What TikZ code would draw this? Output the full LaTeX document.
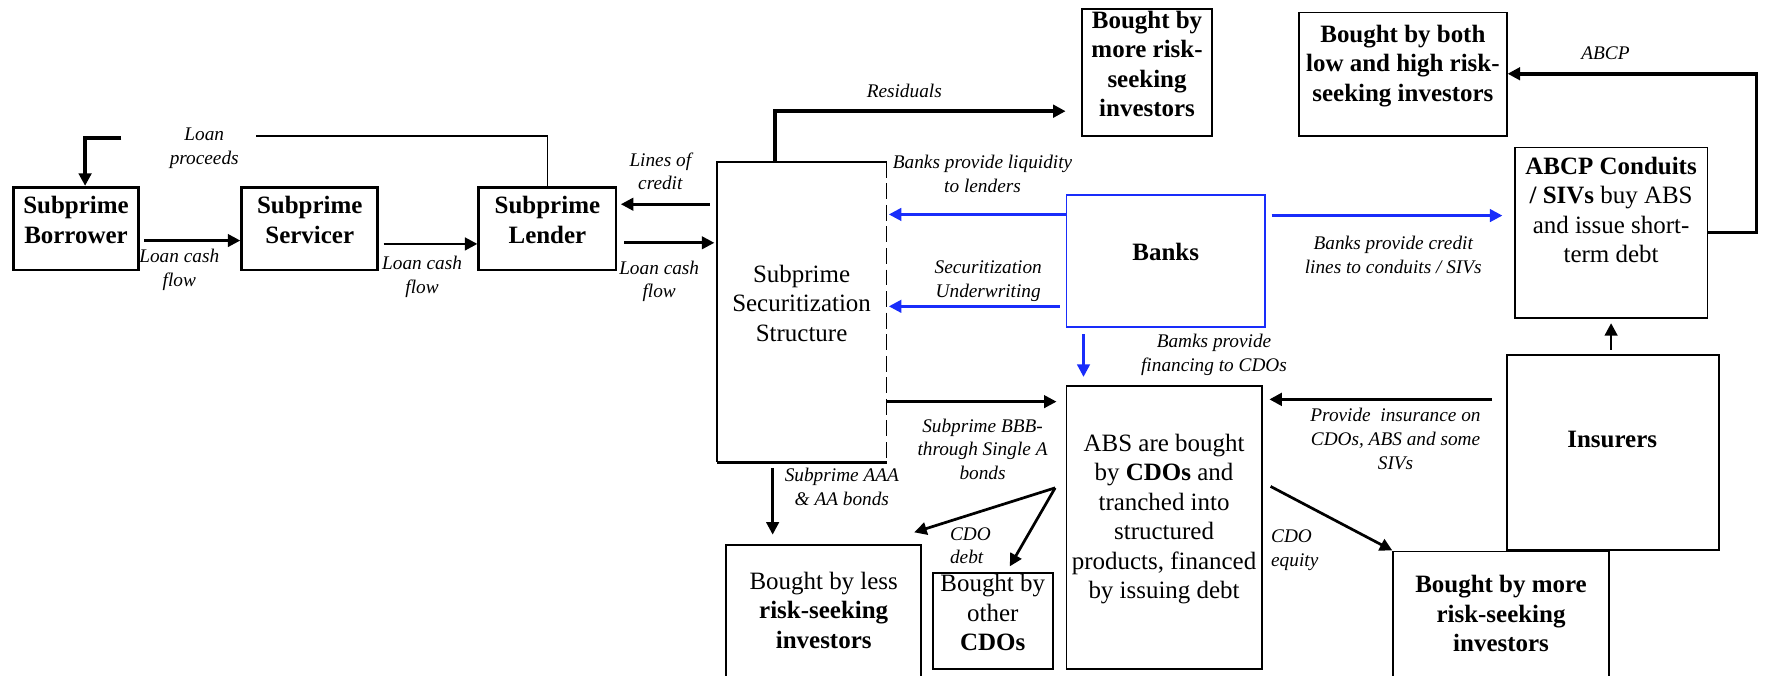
\documentclass[tikz,border=0pt]{standalone}
\usepackage{fontspec}
\setmainfont{Liberation Serif}
\usetikzlibrary{arrows.meta,fit,calc}
\definecolor{refblue}{RGB}{25,45,250}
\tikzset{
  box/.style={draw, line width=0.8pt, inner sep=0pt, align=center,
    font=\fontsize{11}{13}\selectfont},
  bbox/.style={box, font=\fontsize{11}{13}\selectfont\bfseries},
  lbl/.style={align=center, inner sep=0pt,
    font=\fontsize{8.5}{10.5}\selectfont\itshape},
  arr/.style={line width=1.2pt, -{Triangle[length=5.5pt,width=5.5pt]}},
  tarr/.style={arr, line width=1.6pt},
  barr/.style={arr, draw=refblue},
  thinline/.style={line width=0.6pt}
}
\begin{document}
\begin{tikzpicture}[x=0.5pt,y=-0.5pt]
\useasboundingbox (0,0) rectangle (1568,595);
% boxes
\node[bbox, line width=1.2pt, fit={(12,165) (122,238)}] (bor) {Subprime\\Borrower};
\node[bbox, line width=1.2pt, fit={(213,165) (333,238)}] (ser) {Subprime\\Servicer};
\node[bbox, line width=1.2pt, fit={(422,165) (543,238)}] (len) {Subprime\\Lender};
\node[inner sep=0pt, align=center, font=\fontsize{11}{13}\selectfont,
  fit={(632,143) (781,407)}] (sec) {Subprime\\Securitization\\Structure};
\draw[line width=0.8pt] (sec.north east) -- (sec.north west) -- (sec.south west);
\draw[line width=1.3pt] (sec.south west) -- (sec.south east);
\draw[line width=0.8pt, dash pattern=on 7pt off 2.5pt] (sec.north east) -- (sec.south east);
\node[bbox, fit={(954,8) (1068,120)}] (topmore) {Bought by\\more risk-\\seeking\\investors};
\node[bbox, fit={(1145,11) (1328,120)}] (both) {Bought by both\\low and high risk-\\seeking investors};
\node[box, fit={(1335,130) (1505,280)}] (abcp) {};
\node[align=center, inner sep=0pt, font=\fontsize{11}{13}\selectfont] (abcptext) at (1420,185)
  {\textbf{ABCP Conduits}\\\textbf{/ SIVs} buy ABS\\and issue short-\\term debt};
\node[bbox, draw=refblue, fit={(940,172) (1115,288)}] (banks) {Banks};
\node[box, fit={(940,340) (1112,590)}] (abs)
  {ABS are bought\\by \textbf{CDOs} and\\tranched into\\structured\\products, financed\\by issuing debt};
\node[box, fit={(1328,313) (1515,485)}] (ins) {};
\node[inner sep=0pt, font=\fontsize{11}{13}\selectfont\bfseries] (instext) at (1421,387) {Insurers};
\node[box, fit={(640,480) (812,600)}] (less) {};
\node[align=center, inner sep=0pt, font=\fontsize{11}{13}\selectfont] (lesstext) at (726,538)
  {Bought by less\\\textbf{risk-seeking}\\\textbf{investors}};
\node[box, fit={(822,505) (928,590)}] (other) {Bought by\\other\\\textbf{CDOs}};
\node[box, fit={(1228,486) (1418,600)}] (moreb) {};
\node[align=center, inner sep=0pt, font=\fontsize{11}{13}\selectfont\bfseries] (morebtext) at (1323,541)
  {Bought by more\\risk-seeking\\investors};
% connectors
\draw[arr, shorten <=2pt] (bor.east |- 0,212) -- (ser.west |- 0,212);
\draw[arr, shorten <=2pt] (ser.east |- 0,215) -- (len.west |- 0,215);
\draw[arr, shorten <=3pt, shorten >=1pt] (len.east |- 0,214) -- (sec.west |- 0,214);
\draw[arr, shorten <=3pt, shorten >=1.5pt] (sec.west |- 0,180) -- (len.east |- 0,180);
\draw[thinline] (len.north) -- (len.north |- 0,120) -- (226,120);
\coordinate (lpA) at (107,121.5);
\draw[tarr] (lpA) -- (75,121.5) -- (bor.north -| 75,0);
\draw[tarr, shorten >=7pt] (sec.north -| 683,0) -- (683,98) -- (topmore.west |- 0,98);
\draw[barr, shorten >=1pt] (banks.west |- 0,189) -- (sec.east |- 0,189);
\draw[barr, shorten <=2.5pt, shorten >=1pt] (banks.west |- 0,270) -- (sec.east |- 0,270);
\draw[barr, shorten <=2.5pt, shorten >=5pt] (banks.east |- 0,190) -- (abcp.west |- 0,190);
\draw[barr, shorten <=3pt, shorten >=3.5pt] (banks.south -| 955,0) -- (abs.north -| 955,0);
\draw[arr, shorten >=4pt] (sec.east |- 0,354) -- (abs.west |- 0,354);
\draw[arr, shorten <=2.5pt, shorten >=4pt] (sec.south -| 681,0) -- (less.north -| 681,0);
\coordinate (cdoSplit) at (930,430);
\draw[arr] (cdoSplit) -- ($(less.north east)+(-7,-10)$);
\draw[arr] (cdoSplit) -- ($(other.north)+(15,-5)$);
\draw[arr, shorten <=4pt] (abs.east |- 0,425) -- (moreb.north west);
\draw[tarr, shorten <=6pt, shorten >=3pt] (ins.west |- 0,352) -- (abs.east |- 0,352);
\draw[arr, shorten <=2pt, shorten >=2pt] (ins.north -| 1420,0) -- (abcp.south -| 1420,0);
\draw[tarr] (abcp.east |- 0,205) -- (1548,205) |- (both.east |- 0,65);
% labels
\node[lbl] (l1) at (180,131) {Loan\\proceeds};
\node[lbl] (l2) at (158,238) {Loan cash\\flow};
\node[lbl] (l3) at (372,244) {Loan cash\\flow};
\node[lbl] (l4) at (581,248) {Loan cash\\flow};
\node[lbl] (l5) at (582,151) {Lines of\\credit};
\node[lbl] (l6) at (797,80) {Residuals};
\node[lbl] (l7) at (866,153) {Banks provide liquidity\\to lenders};
\node[lbl] (l8) at (871,248) {Securitization\\Underwriting};
\node[lbl] (l9) at (1228,225) {Banks provide credit\\lines to conduits / SIVs};
\node[lbl] (l10) at (1070,313) {Bamks provide\\financing to CDOs};
\node[lbl] (l11) at (866,396) {Subprime BBB-\\through Single A\\bonds};
\node[lbl] (l12) at (742,429) {Subprime AAA\\\& AA bonds};
\node[lbl, align=left, anchor=west] (l13) at (837,481) {CDO\\debt};
\node[lbl, align=left, anchor=west] (l14) at (1120,485) {CDO\\equity};
\node[lbl] (l15) at (1230,387) {Provide\ \ insurance on\\CDOs, ABS and some\\SIVs};
\node[lbl] (l16) at (1415,47) {ABCP};
\end{tikzpicture}
\end{document}
